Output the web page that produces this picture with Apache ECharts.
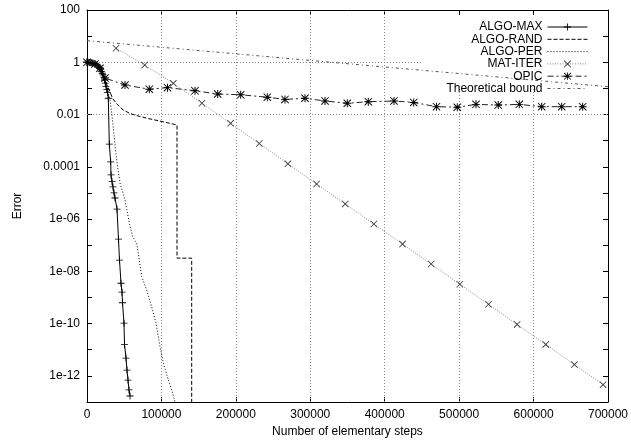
<!DOCTYPE html>
<html><head><meta charset="utf-8">
<script src="https://cdn.jsdelivr.net/npm/echarts@6/dist/echarts.min.js"></script>
<style>html,body{margin:0;padding:0;background:#fff}#c{width:631px;height:444px}</style>
</head><body><div id="c"></div><script>
// ---- axis ticks / labels ----
const xTickValues = [0, 100000, 200000, 300000, 400000, 500000, 600000, 700000];
const yTickExp = [-12, -10, -8, -6, -4, -2, 0, 2];
const yTickLabels = ['1e-12', '1e-10', '1e-08', '1e-06', '0.0001', '0.01', '1', '100'];
const seriesNames = ['ALGO-MAX', 'ALGO-RAND', 'ALGO-PER', 'MAT-ITER', 'OPIC', 'Theoretical bound'];

// ---- grid (gnuplot grid, hidden inside key box) ----
const yGridValues = [1e-12, 1e-10, 1e-8, 1e-6, 1e-4, 1e-2];
const xGridValues = [100000, 200000, 300000, 400000];
const keyBoxLeftX = 451000;   // grid at y=1 stops here
const keyBoxBottomY = 0.12;   // vertical grid lines 500000/600000 stop here
const yGridPartial = [1];
const xGridPartial = [500000, 600000];

// ---- data ----
const algoMaxX = [0, 1500, 3000, 4500, 6000, 7500, 9000, 10500, 12000, 13500, 15000, 16500, 17500, 18500, 19500, 20500, 21500, 22500, 23500, 24500, 25500, 26500, 27500,
  28620, 29960, 31840, 32250, 33590, 34930, 36280, 37620, 40310, 42320, 43670, 45680, 47030, 47700, 49710, 50390, 52400, 53740, 55090, 56430, 57780];
const algoMaxY = [1, 0.995, 0.99, 0.98, 0.96, 0.94, 0.91, 0.88, 0.83, 0.77, 0.71, 0.64, 0.59, 0.52, 0.45, 0.38, 0.33, 0.27, 0.21, 0.16, 0.12, 0.09, 0.07,
  0.042, 7.4e-4, 1.55e-4, 4.9e-5, 2.7e-5, 1.7e-5, 1e-5, 6.4e-6, 2.4e-6, 1.7e-7, 2.7e-8, 3.5e-9, 1.6e-9, 6.3e-10, 1.04e-10, 1.6e-11, 4.8e-12, 1.66e-12, 6.9e-13, 2.9e-13, 1.7e-13];

const algoRandX = [0, 10750, 17470, 22840, 26870, 30900, 34930, 40310, 48370, 57780, 64490, 80620, 100770, 120920, 120920, 140670, 140670];
const algoRandY = [1, 0.86, 0.6, 0.32, 0.134, 0.072, 0.039, 0.025, 0.015, 0.011, 0.0095, 0.0072, 0.0054, 0.004, 3.2e-8, 3.2e-8, 1e-13];

const algoPerX = [0, 10750, 17470, 22840, 26870, 30900, 33590, 36280, 38290, 41650, 44340, 51060, 56830, 61400, 66780, 70270, 73500, 80210, 86930, 92710, 98080, 102510, 107890, 113800, 118240];
const algoPerY = [1, 0.86, 0.6, 0.32, 0.123, 0.036, 0.0095, 1.65e-3, 4.4e-4, 7.6e-5, 2.4e-5, 5.4e-6, 7.1e-7, 2.1e-7, 1.2e-7, 2.7e-8, 6.3e-9, 1.9e-9, 4.4e-10, 1.04e-10, 1.3e-11, 3.1e-12, 9.3e-13, 2.9e-13, 1e-13];

const matIterX = [38960, 77460, 115970, 154460, 192960, 231470, 269960, 308460, 346950, 385460, 423950, 462450, 500960, 539440, 577940, 616450, 654940, 693400];
const matIterY = [3.42, 0.785, 0.156, 0.027, 0.0046, 7.8e-4, 1.3e-4, 2.2e-5, 3.8e-6, 6.5e-7, 1.1e-7, 1.9e-8, 3.2e-9, 5.5e-10, 9.3e-11, 1.6e-11, 2.7e-12, 4.6e-13];

const opicX = [0, 10750, 17470, 24190, 51060, 83710, 108160, 145110, 175610, 206510, 242250, 266030, 292900, 319780, 349740, 377950, 412490, 438950, 469590, 497530, 522660, 552620, 580840, 610930, 637800, 666020];
const opicY = [1, 0.86, 0.59, 0.25, 0.135, 0.093, 0.107, 0.081, 0.061, 0.057, 0.046, 0.038, 0.042, 0.033, 0.027, 0.031, 0.033, 0.029, 0.020, 0.019, 0.0245, 0.023, 0.0245, 0.020, 0.020, 0.020];

const boundX = [0, 700000];
const boundY = [6.7, 0.116];

// ---- build ----
const FONT = "'Liberation Sans', Arial, Helvetica, sans-serif";
const pairs = (xs, ys) => xs.map((x, i) => [x, ys[i]]);
const SYM_PLUS = 'path://M0,4.4H10V5.6H0Z M4.4,0H5.6V10H4.4Z';
const SYM_CROSS = 'path://M0,0.8L0.8,0L10,9.2L9.2,10Z M9.2,0L10,0.8L0.8,10L0,9.2Z';
const SYM_STAR = 'path://M0,4.4H10V5.6H0Z M4.4,0H5.6V10H4.4Z M0,0.8L0.8,0L10,9.2L9.2,10Z M9.2,0L10,0.8L0.8,10L0,9.2Z';

const gridStyle = { color: '#888', width: 1, type: [1, 2] };
const markData = [];
yGridValues.forEach(v => markData.push({ yAxis: v }));
xGridValues.forEach(v => markData.push({ xAxis: v }));
yGridPartial.forEach(v => markData.push([{ coord: [0, v] }, { coord: [keyBoxLeftX, v] }]));
xGridPartial.forEach(v => markData.push([{ coord: [v, 1e-13] }, { coord: [v, keyBoxBottomY] }]));

function lineSeries(name, data, lineStyle, symbol, symbolColor, size) {
  const s = {
    name, type: 'line', data, symbolSize: size || 7,
    lineStyle, emphasis: { disabled: true }, silent: true, z: 2
  };
  if (symbol) {
    s.symbol = symbol;
    s.itemStyle = { color: symbolColor || lineStyle.color };
  } else {
    // no markers: invisible symbol so the legend shows only the line sample
    s.symbol = 'circle';
    s.showSymbol = false;
    s.itemStyle = { color: 'rgba(0,0,0,0)' };
  }
  return s;
}

const axisCommon = {
  axisLine: { show: true, onZero: false, lineStyle: { color: '#000', width: 1 } },
  axisTick: { show: true, inside: true, length: 5, lineStyle: { color: '#000' } },
  splitLine: { show: false },
  minorTick: { show: false }
};

const option = {
  animation: false,
  backgroundColor: '#fff',
  grid: { left: 87, right: 23, top: 10, bottom: 42, containLabel: false },
  xAxis: [
    Object.assign({}, axisCommon, {
      type: 'value', position: 'bottom', min: 0, max: 700000, interval: 100000,
      name: 'Number of elementary steps', nameLocation: 'middle', nameGap: 23,
      nameTextStyle: { fontFamily: FONT, fontSize: 12, color: '#000' },
      axisLabel: { fontFamily: FONT, fontSize: 12, color: '#000', margin: 7, formatter: v => String(v) }
    }),
    Object.assign({}, axisCommon, {
      type: 'value', position: 'top', min: 0, max: 700000, interval: 100000,
      axisLabel: { show: false }
    })
  ],
  yAxis: [
    Object.assign({}, axisCommon, {
      type: 'log', logBase: 10, position: 'left', min: 1e-13, max: 100, interval: 1, splitNumber: 15,
      name: 'Error', nameLocation: 'middle', nameGap: 63, nameRotate: 90,
      nameTextStyle: { fontFamily: FONT, fontSize: 12, color: '#000' },
      axisLabel: {
        fontFamily: FONT, fontSize: 12, color: '#000', margin: 7,
        formatter: v => { const e = Math.round(Math.log10(v)); const i = yTickExp.indexOf(e); return i >= 0 ? yTickLabels[i] : ''; }
      }
    }),
    Object.assign({}, axisCommon, {
      type: 'log', logBase: 10, position: 'right', min: 1e-13, max: 100, interval: 1, splitNumber: 15,
      axisLabel: { show: false }
    })
  ],
  legend: {
    data: seriesNames, orient: 'vertical', right: 38, top: 16, align: 'right',
    itemWidth: 40, itemHeight: 9, itemGap: 0.3, selectedMode: false,
    lineStyle: { width: 1 },
    textStyle: { fontFamily: FONT, fontSize: 12, color: '#000', lineHeight: 12 }
  },
  series: [
    {
      name: 'grid', type: 'line', data: [], silent: true, z: 1,
      markLine: { silent: true, symbol: ['none', 'none'], label: { show: false }, lineStyle: gridStyle, z: 1, animation: false, data: markData }
    },
    lineSeries('ALGO-MAX', pairs(algoMaxX, algoMaxY), { color: '#000', width: 1, type: 'solid' }, SYM_PLUS, '#000', 7),
    lineSeries('ALGO-RAND', pairs(algoRandX, algoRandY), { color: '#000', width: 1, type: [4, 2] }),
    lineSeries('ALGO-PER', pairs(algoPerX, algoPerY), { color: '#000', width: 1, type: [1, 2] }),
    lineSeries('MAT-ITER', pairs(matIterX, matIterY), { color: '#888', width: 1, type: [1, 1.5] }, SYM_CROSS, '#333', 7),
    lineSeries('OPIC', pairs(opicX, opicY), { color: '#222', width: 1, type: [6, 3, 2, 3] }, SYM_STAR, '#000', 8),
    lineSeries('Theoretical bound', pairs(boundX, boundY), { color: '#555', width: 1, type: [3, 3, 1, 3] })
  ]
};
echarts.init(document.getElementById('c'), null, { renderer: 'canvas' }).setOption(option);
</script></body></html>
